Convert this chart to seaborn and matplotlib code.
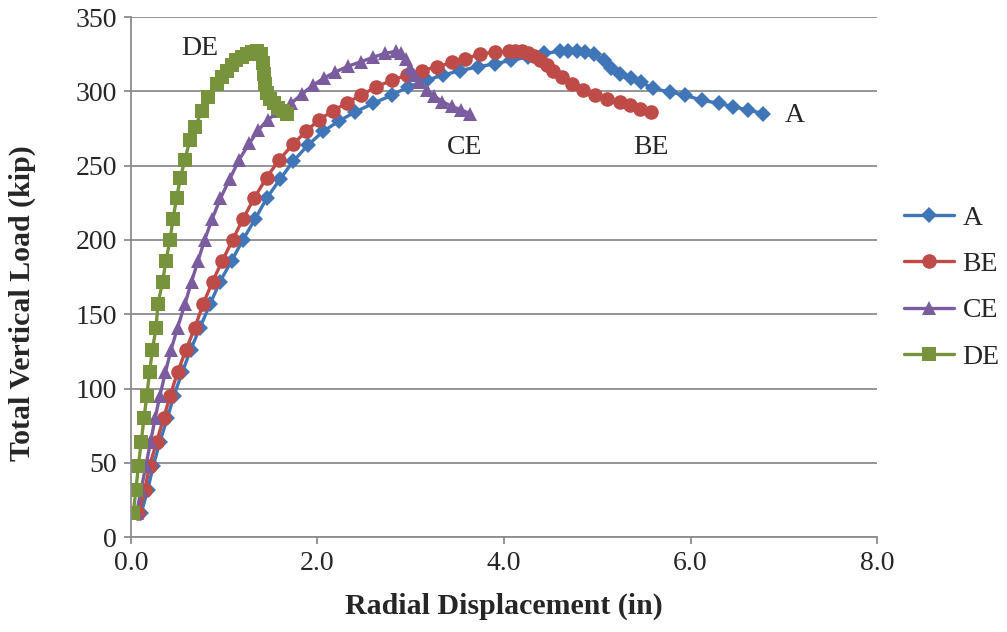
import matplotlib
matplotlib.use("Agg")
import matplotlib.pyplot as plt
import seaborn as sns
import pandas as pd

a_x = [0.11, 0.18, 0.24, 0.31, 0.39, 0.46, 0.55, 0.64, 0.74, 0.85, 0.955, 1.08, 1.20, 1.33, 1.455,
       1.60, 1.74, 1.90, 2.06, 2.23, 2.40, 2.60, 2.80, 2.97, 3.17, 3.35, 3.53, 3.72, 3.90, 4.08,
       4.26, 4.43, 4.60, 4.69, 4.78, 4.87, 4.96, 5.07, 5.15, 5.24, 5.36, 5.47, 5.60, 5.78, 5.94,
       6.12, 6.30, 6.46, 6.62, 6.78]
a_y = [16, 32, 48, 64, 80, 95, 111, 126, 141, 157, 172, 186, 200, 214, 228,
       241, 253, 264, 273, 280, 286, 292, 297.5, 303, 307.5, 311, 314, 316.5, 318.5, 321,
       323, 325.5, 327, 327, 327, 326.5, 325, 321, 316, 312, 309, 306, 302, 299.5, 297.5,
       294, 292, 289.6, 287.4, 285]

be_x = [0.08, 0.15, 0.20, 0.275, 0.35, 0.42, 0.50, 0.59, 0.685, 0.775, 0.875, 0.98, 1.09, 1.20,
        1.32, 1.455, 1.59, 1.74, 1.875, 2.02, 2.17, 2.32, 2.47, 2.63, 2.80, 2.96, 3.12, 3.28,
        3.44, 3.58, 3.74, 3.90, 4.05, 4.12, 4.19, 4.26, 4.32, 4.39, 4.46, 4.53, 4.62, 4.73,
        4.85, 4.98, 5.10, 5.24, 5.35, 5.46, 5.58]
be_y = [16, 32, 48, 64, 80, 95, 111, 126, 141, 157, 172, 186, 200, 214,
        228, 242, 254, 264.5, 273, 281, 287, 292.5, 297.5, 303, 307.5, 311, 314, 316.5,
        319.5, 322, 325, 326.5, 327, 327, 327, 326, 324, 321, 318, 314, 310, 305,
        301, 297.5, 295, 293, 290.5, 288, 286]

ce_x = [0.06, 0.11, 0.16, 0.21, 0.26, 0.31, 0.37, 0.43, 0.50, 0.58, 0.65, 0.72, 0.79, 0.87,
        0.96, 1.06, 1.16, 1.27, 1.365, 1.47, 1.60, 1.72, 1.83, 1.95, 2.07, 2.19, 2.33, 2.47,
        2.60, 2.72, 2.84, 2.90, 2.95, 2.99, 3.04, 3.09, 3.17, 3.25, 3.34, 3.44, 3.54, 3.64]
ce_y = [16, 32, 48, 64, 80, 95, 111, 126, 141, 157, 172, 186, 200, 214,
        228, 241, 254, 265, 274, 281, 287, 292, 298, 304, 309, 313, 317, 320,
        323, 325.5, 327, 326, 322, 316, 311, 306, 301, 297, 293, 290, 287.5, 285]

de_x = [0.025, 0.054, 0.08, 0.11, 0.14, 0.17, 0.20, 0.23, 0.27, 0.29, 0.34, 0.375, 0.42, 0.45,
        0.49, 0.53, 0.58, 0.63, 0.69, 0.76, 0.83, 0.92, 0.98, 1.03, 1.08, 1.13, 1.19, 1.24,
        1.30, 1.35, 1.40, 1.42, 1.43, 1.44, 1.46, 1.49, 1.53, 1.58, 1.63, 1.67]
de_y = [16, 32, 48, 64, 80, 95, 111, 126, 141, 157, 172, 186, 200, 214,
        228, 242, 254, 267, 276, 287, 296, 305, 310, 314, 318, 321, 323, 325,
        326.5, 327, 325, 319, 312, 305, 299, 295, 292, 289, 287, 285]

series = ["A", "BE", "CE", "DE"]
colors = {"A": "#4076B8", "BE": "#BE4B48", "CE": "#7B5C9E", "DE": "#77933C"}
markers = {"A": "D", "BE": "o", "CE": "^", "DE": "s"}
msize = {"A": 8, "BE": 10.5, "CE": 10.5, "DE": 10}

frames = []
for name, xs, ys in zip(series, [a_x, be_x, ce_x, de_x], [a_y, be_y, ce_y, de_y]):
    frames.append(pd.DataFrame({"x": xs, "y": ys, "series": name, "step": range(len(xs))}))
df = pd.concat(frames, ignore_index=True)

sns.set_theme(style="white")
plt.rcParams["font.family"] = ["Liberation Serif", "DejaVu Serif"]

fig = plt.figure(figsize=(10.07, 6.32), dpi=100)
ax = fig.add_axes([0.130, 0.150, 0.741, 0.823])

for name in series:
    sub = df[df["series"] == name]
    sns.lineplot(data=sub, x="x", y="y", sort=False, estimator=None, color=colors[name],
                 marker=markers[name], markersize=msize[name], markeredgewidth=0,
                 linewidth=2.4, label=name, ax=ax)

ax.set_xlim(0, 8)
ax.set_ylim(0, 350)
ax.set_xticks([0, 2, 4, 6, 8])
ax.set_xticklabels(["0.0", "2.0", "4.0", "6.0", "8.0"])
ax.set_yticks(range(0, 351, 50))
ax.yaxis.grid(True, color="#8C8C8C", linewidth=1.3)
ax.xaxis.grid(False)
for s in ["top", "right"]:
    ax.spines[s].set_visible(False)
for s in ["left", "bottom"]:
    ax.spines[s].set_color("#8C8C8C")
    ax.spines[s].set_linewidth(1.3)
ax.tick_params(axis="both", direction="out", length=5, width=1.3, color="#8C8C8C",
               labelsize=20, pad=5, left=True, bottom=True)

ax.set_xlabel("Radial Displacement (in)", fontsize=21.5, fontweight="bold", labelpad=12)
ax.set_ylabel("Total Vertical Load (kip)", fontsize=21.5, fontweight="bold")
ax.yaxis.set_label_coords(-0.127, 0.45)

ax.text(0.74, 329, "DE", fontsize=20, ha="center", va="center")
ax.text(3.58, 262, "CE", fontsize=20, ha="center", va="center")
ax.text(5.58, 262, "BE", fontsize=20, ha="center", va="center")
ax.text(7.12, 284, "A", fontsize=20, ha="center", va="center")

ax.legend(loc="center left", bbox_to_anchor=(0.898, 0.545), bbox_transform=fig.transFigure,
          frameon=False, fontsize=20, handlelength=1.8, labelspacing=0.75, handletextpad=0.3,
          borderpad=0, borderaxespad=0)

fig.savefig("out.png", dpi=100)
